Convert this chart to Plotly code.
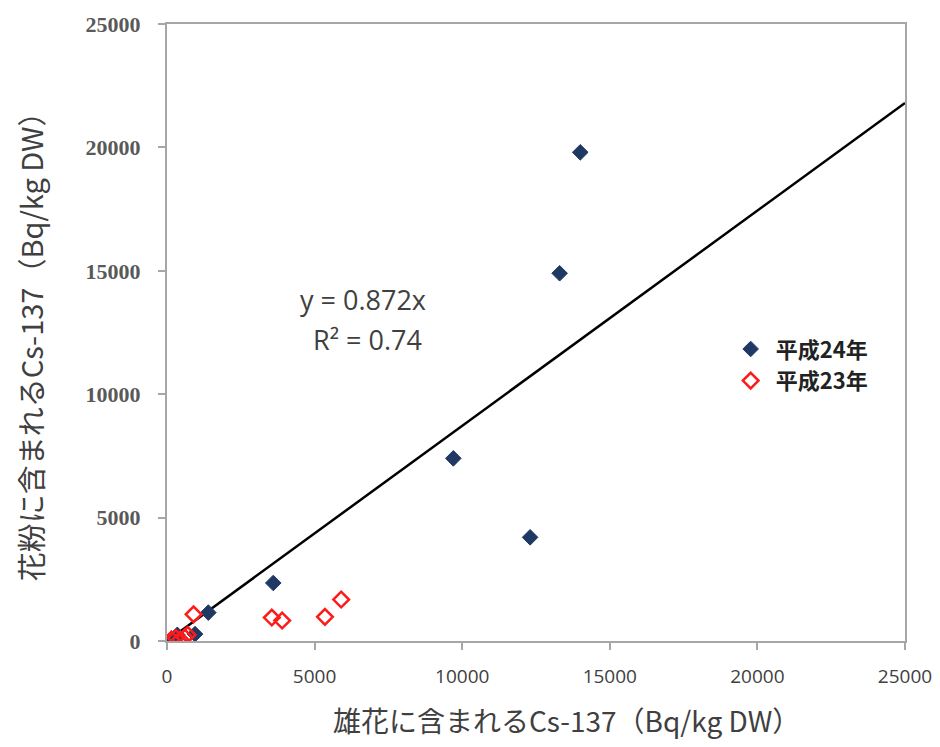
import plotly.graph_objects as go

# 平成24年 (blue filled diamonds)
h24_x = [14000, 13300, 9700, 12300, 3600, 1400, 950, 350, 150]
h24_y = [19800, 14900, 7400, 4200, 2350, 1150, 280, 250, 100]
# 平成23年 (red open diamonds)
h23_x = [900, 3550, 3900, 5350, 5900, 150, 300, 450, 600, 700]
h23_y = [1080, 950, 830, 980, 1680, 60, 120, 60, 150, 250]

slope = 0.872
r2 = 0.74
line_x = [0, 25000]
line_y = [slope * v for v in line_x]

x_ticks = [0, 5000, 10000, 15000, 20000, 25000]
y_ticks = [0, 5000, 10000, 15000, 20000, 25000]

x_title = "雄花に含まれるCs-137（Bq/kg DW）"
y_title = "花粉に含まれるCs-137（Bq/kg DW）"

fig = go.Figure()
fig.add_trace(go.Scatter(
    x=line_x, y=line_y, mode="lines",
    line=dict(color="black", width=2.5), showlegend=False, hoverinfo="skip"))
fig.add_trace(go.Scatter(
    x=h24_x, y=h24_y, mode="markers", name="平成24年",
    marker=dict(symbol="diamond", size=12, color="#1f3864",
                line=dict(color="#1f3864", width=1))))
fig.add_trace(go.Scatter(
    x=h23_x, y=h23_y, mode="markers", name="平成23年",
    marker=dict(symbol="diamond-open", size=12, color="#ff1a1a",
                line=dict(color="#ff1a1a", width=2.5))))

eq_font = dict(family="Open Sans, Liberation Sans", size=27, color="#404040")
fig.add_annotation(x=6640, y=13820, xref="x", yref="y",
                   text=f"y = {slope}x", showarrow=False, font=eq_font)
fig.add_annotation(x=6800, y=12200, xref="x", yref="y",
                   text=f"R² = {r2}", showarrow=False, font=eq_font)

fig.add_annotation(
    x=0.542, y=-0.128, xref="paper", yref="paper", yanchor="middle",
    text=x_title, showarrow=False,
    font=dict(family="Noto Sans CJK JP", size=28, color="#404040"))
fig.add_annotation(
    x=-0.1856, y=0.489, xref="paper", yref="paper", xanchor="center", yanchor="middle",
    text=y_title, showarrow=False, textangle=-90,
    font=dict(family="Noto Sans CJK JP", size=29, color="#404040"))

axis_common = dict(
    showgrid=False, zeroline=False, showline=True, mirror=True, automargin=False,
    linecolor="#a6a6a6", linewidth=2, ticks="outside", ticklen=7,
    tickcolor="#a6a6a6", tickwidth=1.5, ticklabeloverflow="allow")

fig.update_xaxes(range=[0, 25000], tickvals=x_ticks,
                 ticktext=[str(v) for v in x_ticks],
                 tickfont=dict(family="Open Sans", size=19, color="#404040"),
                 ticklabelstandoff=10,
                 **axis_common)
fig.update_yaxes(range=[0, 25000], tickvals=y_ticks,
                 ticktext=[str(v) for v in y_ticks],
                 tickfont=dict(family="Liberation Serif", size=22, color="#595959", weight="bold"),
                 ticklabelstandoff=13,
                 **axis_common)

fig.update_layout(
    width=924, height=731,
    margin=dict(l=159, r=27, t=16, b=98),
    plot_bgcolor="white", paper_bgcolor="white",
    legend=dict(x=0.757, y=0.507, xanchor="left", yanchor="top",
                bgcolor="rgba(0,0,0,0)",
                font=dict(family="Noto Sans CJK JP", size=22, color="#222222", weight="bold"),
                tracegroupgap=0, itemwidth=40),
)

fig.write_html("out.html")
